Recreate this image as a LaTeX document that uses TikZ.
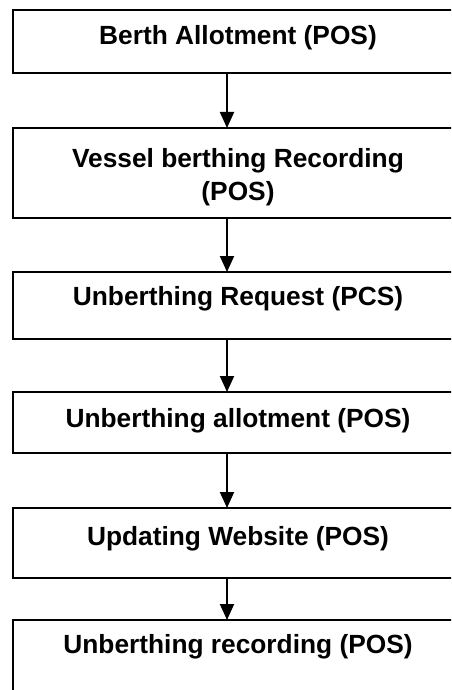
\documentclass[tikz,border=0pt]{standalone}
\usepackage{fontspec}
\setmainfont{Liberation Sans}
\usetikzlibrary{arrows.meta}
\begin{document}
\begin{tikzpicture}[x=1pt,y=1pt,
  boxstyle/.style={draw=black,line width=1.9pt,minimum width=450pt,inner sep=0pt,outer sep=0pt},
  txt/.style={anchor=base,inner sep=0pt,font=\fontsize{26.3}{33}\selectfont\bfseries,align=center},
  flow/.style={line width=1.9pt,-{Triangle[width=14pt,length=16pt]}}]
\useasboundingbox (0,0) rectangle (451,-690);
\clip (0,0) rectangle (451,-690);
\fill[white] (0,0) rectangle (451,-690);
\coordinate (ax) at (227,0);
\node[boxstyle,minimum height=63pt] (b1) at (238,-41.5) {};
\node[boxstyle,minimum height=90pt] (b2) at (238,-173) {};
\node[boxstyle,minimum height=67pt] (b3) at (238,-305.5) {};
\node[boxstyle,minimum height=61pt] (b4) at (238,-422.5) {};
\node[boxstyle,minimum height=70pt] (b5) at (238,-543) {};
\node[boxstyle,minimum height=85pt] (b6) at (238,-662.5) {};
\node[txt] (t1) at (238,-45) {Berth Allotment (POS)};
\node[txt] (t2) at (238,-200) {Vessel berthing Recording\\(POS)};
\node[txt] (t3) at (238,-305) {Unberthing Request (PCS)};
\node[txt] (t4) at (238,-427) {Unberthing allotment (POS)};
\node[txt] (t5) at (238,-545) {Updating Website (POS)};
\node[txt] (t6) at (238,-653) {Unberthing recording (POS)};
\draw[flow] (b1.south -| ax) -- (b2.north -| ax);
\draw[flow] (b2.south -| ax) -- (b3.north -| ax);
\draw[flow] (b3.south -| ax) -- (b4.north -| ax);
\draw[flow] (b4.south -| ax) -- (b5.north -| ax);
\draw[flow] (b5.south -| ax) -- (b6.north -| ax);
\end{tikzpicture}
\end{document}
